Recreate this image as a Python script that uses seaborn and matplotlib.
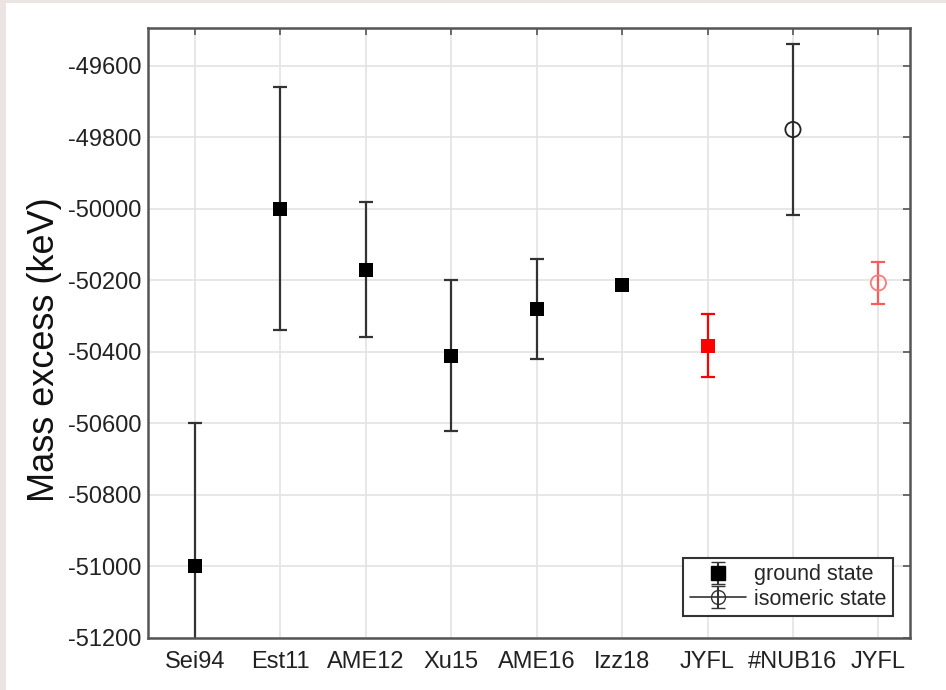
import numpy as np
import pandas as pd
import matplotlib
matplotlib.use("Agg")
import matplotlib.pyplot as plt
from matplotlib.patches import Rectangle
import seaborn as sns

labels = ["Sei94", "Est11", "AME12", "Xu15", "AME16", "Izz18", "JYFL", "#NUB16", "JYFL"]
positions = [1, 2, 3, 4, 5, 6, 7, 8, 9]
values = [-51000, -50000, -50170, -50410, -50280, -50213, -50383, -49778, -50207]
errors = [400, 340, 188, 210, 140, 10, 88, 240, 58]
state = ["ground", "ground", "ground", "ground", "ground", "ground", "ground", "isomeric", "isomeric"]
source = ["lit", "lit", "lit", "lit", "lit", "lit", "jyfl", "lit", "jyfl"]

yticks = [-51200, -51000, -50800, -50600, -50400, -50200, -50000, -49800, -49600]

df = pd.DataFrame({"x": positions, "y": values, "err": errors,
                   "state": state, "source": source, "label": labels})

sns.set_theme(style="whitegrid")
plt.rcParams["font.family"] = ["Liberation Sans", "DejaVu Sans"]

fig = plt.figure(figsize=(9.46, 6.90), dpi=100)
fig.patch.set_facecolor("#ece3e3")
fig.patches.append(Rectangle((6 / 946, 0), 1, 1 - 3 / 690, transform=fig.transFigure,
                             facecolor="white", edgecolor="none", zorder=-10))
ax = fig.add_axes([148 / 946, 1 - 638 / 690, 762 / 946, 610 / 690])
ax.set_facecolor("white")

colors = {("ground", "lit"): "black", ("ground", "jyfl"): "#ff0000",
          ("isomeric", "lit"): "#222222", ("isomeric", "jyfl"): "#ff7a7a"}
ecolors = {("ground", "lit"): "#333333", ("ground", "jyfl"): "#ff0000",
           ("isomeric", "lit"): "#333333", ("isomeric", "jyfl"): "#ff5a5a"}

for (st, src), sub in df.groupby(["state", "source"]):
    c = colors[(st, src)]
    ax.errorbar(sub["x"], sub["y"], yerr=sub["err"], fmt="none",
                ecolor=ecolors[(st, src)], elinewidth=1.6, capsize=5, capthick=1.6, zorder=2)
    if st == "ground":
        sns.scatterplot(data=sub, x="x", y="y", marker="s", s=110, color=c,
                        edgecolor=c, linewidth=0, ax=ax, zorder=3, legend=False)
    else:
        sns.scatterplot(data=sub, x="x", y="y", marker="o", s=120, facecolor="none",
                        edgecolor=c, linewidth=1.3, ax=ax, zorder=3, legend=False)

# legend proxies
h1 = ax.errorbar([np.nan], [np.nan], yerr=[np.nan], fmt="s", color="black", ms=10,
                 ecolor="#333333", elinewidth=1.5, capsize=5, label="ground state")
h2 = ax.errorbar([np.nan], [np.nan], yerr=[np.nan], fmt="o-", color="#333333", ms=10,
                 mfc="none", lw=1.2, ecolor="#333333", elinewidth=1.5, capsize=5,
                 label="isomeric state")
leg = ax.legend(handles=[h1, h2], loc="lower right", bbox_to_anchor=(0.978, 0.036),
                borderaxespad=0, fontsize=15.5, frameon=True, fancybox=False,
                handlelength=2.6, handletextpad=0.4, borderpad=0.3, labelspacing=0.15)
leg.get_frame().set_edgecolor("#333333")
leg.get_frame().set_linewidth(1.5)
leg.get_frame().set_alpha(1)

ax.set_xlim(0.45, 9.37)
ax.set_ylim(-51200, -49494)
ax.set_xticks(positions)
ax.set_xticklabels(labels)
ax.set_yticks(yticks)
ax.set_yticklabels([str(v) for v in yticks])
ax.set_xlabel("")
ax.set_ylabel("Mass excess (keV)", fontsize=26, color="#111111")
ax.yaxis.set_label_coords(-0.113, 0.472)
ax.tick_params(axis="both", which="both", direction="in", length=5, width=1.2,
               color="#555555", top=True, right=True, labelsize=17, labelcolor="#222222",
               pad=4.5)
ax.tick_params(axis="x", pad=9)
ax.grid(True, color="#e3e3e3", linewidth=1.2)
for sp in ax.spines.values():
    sp.set_visible(True)
    sp.set_color("#555555")
    sp.set_linewidth(1.8)

fig.savefig("out.png", dpi=100, facecolor=fig.get_facecolor())
